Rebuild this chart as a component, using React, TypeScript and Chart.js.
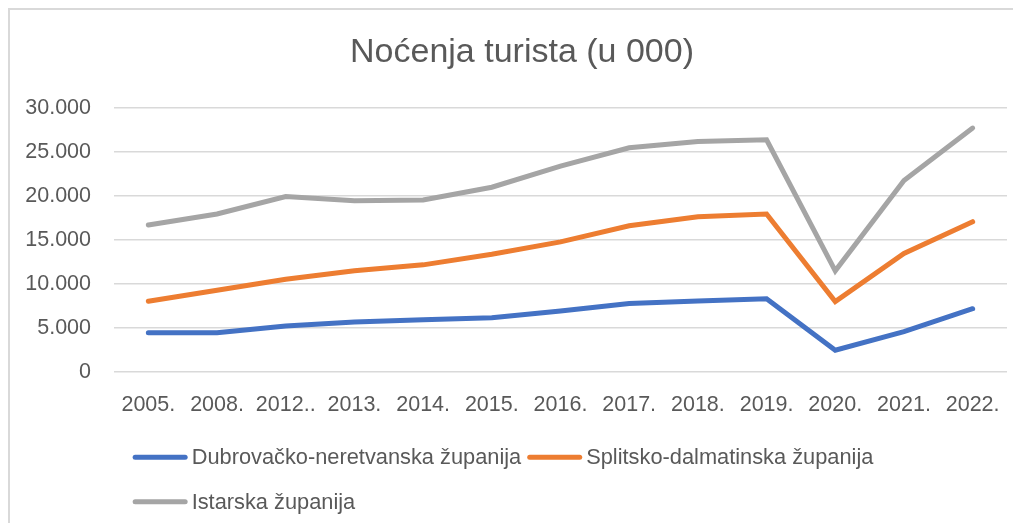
import { useEffect, useRef } from 'react';
import { Chart, registerables } from 'chart.js';

Chart.register(...registerables);

const TITLE = 'Noćenja turista (u 000)';
const YEARS = ['2005.', '2008.', '2012..', '2013.', '2014.', '2015.', '2016.', '2017.', '2018.', '2019.', '2020.', '2021.', '2022.'];
const SERIES_NAMES = ['Dubrovačko-neretvanska županija', 'Splitsko-dalmatinska županija', 'Istarska županija'];
const DUBROVACKO = [4480, 4480, 5240, 5690, 5960, 6190, 6950, 7790, 8090, 8350, 2500, 4600, 7210];
const SPLITSKO = [8050, 9300, 10560, 11510, 12190, 13400, 14800, 16630, 17660, 17960, 8010, 13480, 17090];
const ISTARSKA = [16710, 17960, 19940, 19480, 19560, 21000, 23400, 25480, 26200, 26390, 11510, 21760, 27720];
const Y_MIN = 0;
const Y_MAX = 30000;
const Y_STEP = 5000;

const COLORS = ['#4472C4', '#ED7D31', '#A5A5A5'];
const FONT = '"Liberation Sans", Arial, sans-serif';
const TEXT = '#595959';

const fmt = (v: number) => String(v).replace(/\B(?=(\d{3})+(?!\d))/g, '.');

const excelLegend = {
  id: 'excelLegend',
  afterDraw(chart: any, _args: any, o: any) {
    const { ctx } = chart;
    ctx.save();
    ctx.font = `${o.size}px ${FONT}`;
    const items = chart.data.datasets.map((ds: any) => {
      const tw = ctx.measureText(ds.label).width;
      return { label: ds.label, color: ds.borderColor, w: o.lineW + o.textGap + tw };
    });
    const rows: any[][] = [[]];
    const widths: number[] = [0];
    items.forEach((it: any) => {
      const r = rows.length - 1;
      const add = (rows[r].length ? o.itemGap : 0) + it.w;
      if (rows[r].length && widths[r] + add > o.maxW) {
        rows.push([it]);
        widths.push(it.w);
      } else {
        rows[r].push(it);
        widths[r] += add;
      }
    });
    const maxRow = Math.max(...widths);
    const startX = chart.width / 2 + o.shiftX - maxRow / 2;
    const y0 = chart.chartArea.bottom + o.offsetY;
    rows.forEach((row, ri) => {
      const y = y0 + ri * o.rowGap;
      let x = startX;
      row.forEach((it: any) => {
        ctx.beginPath();
        ctx.lineCap = 'round';
        ctx.lineWidth = o.lineWidth;
        ctx.strokeStyle = it.color;
        ctx.moveTo(x + o.lineWidth / 2, y);
        ctx.lineTo(x + o.lineW - o.lineWidth / 2, y);
        ctx.stroke();
        ctx.fillStyle = TEXT;
        ctx.textBaseline = 'middle';
        ctx.textAlign = 'left';
        ctx.fillText(it.label, x + o.lineW + o.textGap, y + 1);
        x += it.w + o.itemGap;
      });
    });
    ctx.restore();
  },
};

export default function App() {
  const ref = useRef<HTMLCanvasElement>(null);

  useEffect(() => {
    if (!ref.current) return;
    const values = [DUBROVACKO, SPLITSKO, ISTARSKA];
    const chart = new Chart(ref.current, {
      type: 'line',
      data: {
        labels: YEARS,
        datasets: SERIES_NAMES.map((name, i) => ({
          label: name,
          data: values[i],
          borderColor: COLORS[i],
          backgroundColor: COLORS[i],
          borderWidth: 5,
          pointRadius: 0,
          pointHoverRadius: 0,
          borderCapStyle: 'round',
          borderJoinStyle: 'miter',
          tension: 0,
          fill: false,
          yAxisID: 'y',
        })),
      },
      plugins: [excelLegend],
      options: {
        animation: false,
        responsive: true,
        maintainAspectRatio: false,
        layout: { padding: { left: 15, right: 0, top: 0, bottom: 85 } },
        plugins: {
          legend: { display: false },
          tooltip: { enabled: false },
          title: {
            display: true,
            text: TITLE,
            color: TEXT,
            font: { family: FONT, size: 34, weight: 'normal' },
            padding: { top: 21.9, bottom: 35.3 },
          },
          excelLegend: {
            size: 21.8,
            lineW: 55,
            lineWidth: 5,
            textGap: 4,
            itemGap: 6,
            maxW: 900,
            shiftX: -11.5,
            offsetY: 85,
            rowGap: 44.5,
          },
        } as any,
        scales: {
          x: {
            offset: true,
            grid: { display: false, drawTicks: false },
            border: { display: false },
            afterFit: (scale: any) => {
              scale.paddingLeft = 0;
              scale.paddingRight = 0;
            },
            ticks: {
              color: TEXT,
              font: { family: FONT, size: 21.5 },
              padding: 20,
              autoSkip: false,
              maxRotation: 0,
            },
          },
          y: {
            min: Y_MIN,
            max: Y_MAX,
            grid: { color: '#d9d9d9', lineWidth: 1.5, drawTicks: false },
            border: { display: false },
            afterFit: (scale: any) => {
              scale.width = 89;
            },
            ticks: {
              stepSize: Y_STEP,
              color: TEXT,
              font: { family: FONT, size: 21.5 },
              padding: 23,
              callback: (v: any) => fmt(Number(v)),
            },
          },
          yRight: {
            position: 'right',
            display: true,
            grid: { display: false, drawTicks: false },
            border: { display: false },
            ticks: { display: false },
            afterFit: (scale: any) => {
              scale.width = 12;
            },
          },
        },
      },
    });
    return () => chart.destroy();
  }, []);

  return (
    <div
      style={{
        position: 'relative',
        width: 1005,
        height: 515,
        boxSizing: 'border-box',
        borderLeft: '2px solid #d9d9d9',
        borderTop: '2px solid #d9d9d9',
        background: '#fff',
        overflow: 'hidden',
      }}
    >
      <div style={{ position: 'relative', width: 1009, height: 513 }}>
        <canvas ref={ref} style={{ display: 'block' }} />
      </div>
    </div>
  );
}
